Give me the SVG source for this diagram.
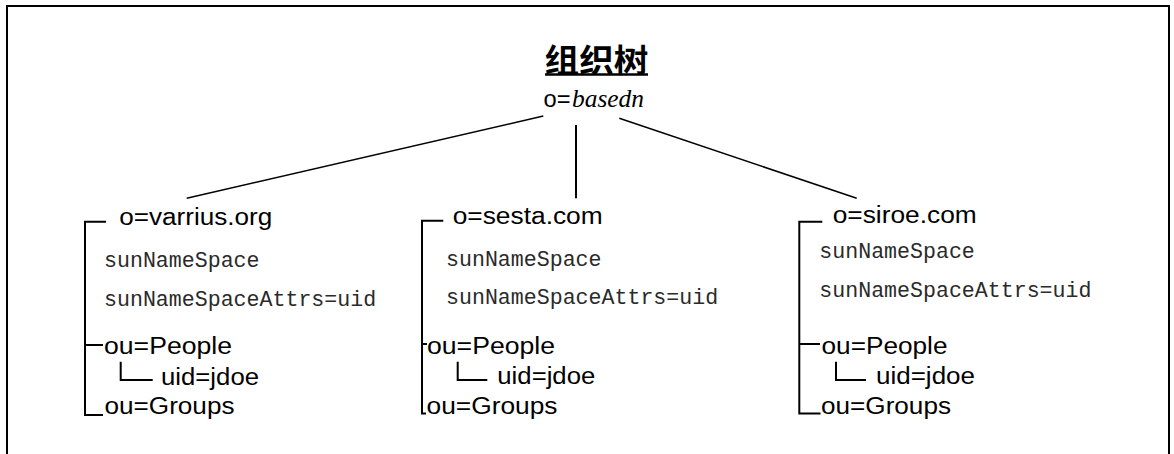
<svg xmlns="http://www.w3.org/2000/svg" width="1174" height="454" viewBox="0 0 1174 454">
  <style>
    .sans { font-family: "Liberation Sans", Arial, sans-serif; font-size: 23px; fill: #000; }
    .mono { font-family: "Liberation Mono", "Courier New", monospace; font-size: 21.6px; fill: #2a2a2a; }
    .ital { font-family: "Liberation Serif", "Times New Roman", serif; font-style: italic; font-size: 25px; fill: #000; }
    .title { font-family: "Liberation Sans", "Noto Sans CJK SC", sans-serif; font-weight: bold; font-size: 32px; fill: #000; }
    .edge { stroke: #000; stroke-width: 1.5; fill: none; }
    .trunk { stroke: #000; stroke-width: 2; fill: none; }
    .bracket { stroke: #000; stroke-width: 2; fill: none; }
  </style>

  <!-- frame -->
  <rect x="7" y="6" width="1162" height="470" fill="#fff" stroke="#000" stroke-width="2"/>

  <!-- root -->
  <g id="root">
    <text class="title" x="596.5" y="71.5" text-anchor="middle" textLength="104" lengthAdjust="spacingAndGlyphs">组织树</text>
    <line x1="545" y1="74.5" x2="648" y2="74.5" stroke="#000" stroke-width="2.4"/>
    <text y="107.3"><tspan class="sans" x="543.5" textLength="27" lengthAdjust="spacingAndGlyphs">o=</tspan><tspan class="ital" x="572" textLength="72" lengthAdjust="spacingAndGlyphs">basedn</tspan></text>
  </g>

  <!-- connectors from root to each suffix -->
  <g id="connectors">
    <line class="edge" x1="186.7" y1="198.3" x2="543.3" y2="116"/>
    <line class="trunk" x1="576" y1="125" x2="576" y2="198.3"/>
    <line class="edge" x1="619.3" y1="118.3" x2="856.7" y2="198.3"/>
  </g>

  <!-- suffix: varrius.org -->
  <g id="varrius">
    <path class="bracket" d="M106 221.7 H85 V415 H103 M85 345 H103"/>
    <path class="bracket" d="M120.7 361.7 V380 H152.7"/>
    <text class="sans" x="119.3" y="225" textLength="153" lengthAdjust="spacingAndGlyphs">o=varrius.org</text>
    <text class="mono" x="104" y="267.3">sunNameSpace</text>
    <text class="mono" x="104" y="306">sunNameSpaceAttrs=uid</text>
    <text class="sans" x="104" y="354" textLength="128" lengthAdjust="spacingAndGlyphs">ou=People</text>
    <text class="sans" x="161" y="385" textLength="98" lengthAdjust="spacingAndGlyphs">uid=jdoe</text>
    <text class="sans" x="104.5" y="414" textLength="130" lengthAdjust="spacingAndGlyphs">ou=Groups</text>
  </g>

  <!-- suffix: sesta.com -->
  <g id="sesta">
    <path class="bracket" d="M443.3 220.7 H422 V413.5 H426 M422 344 H427"/>
    <path class="bracket" d="M457.7 361.7 V380 H487.3"/>
    <text class="sans" x="452.7" y="224" textLength="150" lengthAdjust="spacingAndGlyphs">o=sesta.com</text>
    <text class="mono" x="446" y="266">sunNameSpace</text>
    <text class="mono" x="446" y="304">sunNameSpaceAttrs=uid</text>
    <text class="sans" x="427" y="354" textLength="128" lengthAdjust="spacingAndGlyphs">ou=People</text>
    <text class="sans" x="497.3" y="384" textLength="98" lengthAdjust="spacingAndGlyphs">uid=jdoe</text>
    <text class="sans" x="426.5" y="413.5" textLength="131" lengthAdjust="spacingAndGlyphs">ou=Groups</text>
  </g>

  <!-- suffix: siroe.com -->
  <g id="siroe">
    <path class="bracket" d="M822.3 221.7 H799.3 V413.5 H820.5 M799.3 344 H820"/>
    <path class="bracket" d="M836 361.7 V380 H866"/>
    <text class="sans" x="832.7" y="223.3" textLength="144" lengthAdjust="spacingAndGlyphs">o=siroe.com</text>
    <text class="mono" x="819.3" y="258.3">sunNameSpace</text>
    <text class="mono" x="819.3" y="296.7">sunNameSpaceAttrs=uid</text>
    <text class="sans" x="821.5" y="354" textLength="126" lengthAdjust="spacingAndGlyphs">ou=People</text>
    <text class="sans" x="876" y="384" textLength="99" lengthAdjust="spacingAndGlyphs">uid=jdoe</text>
    <text class="sans" x="821" y="413.5" textLength="130" lengthAdjust="spacingAndGlyphs">ou=Groups</text>
  </g>
</svg>
